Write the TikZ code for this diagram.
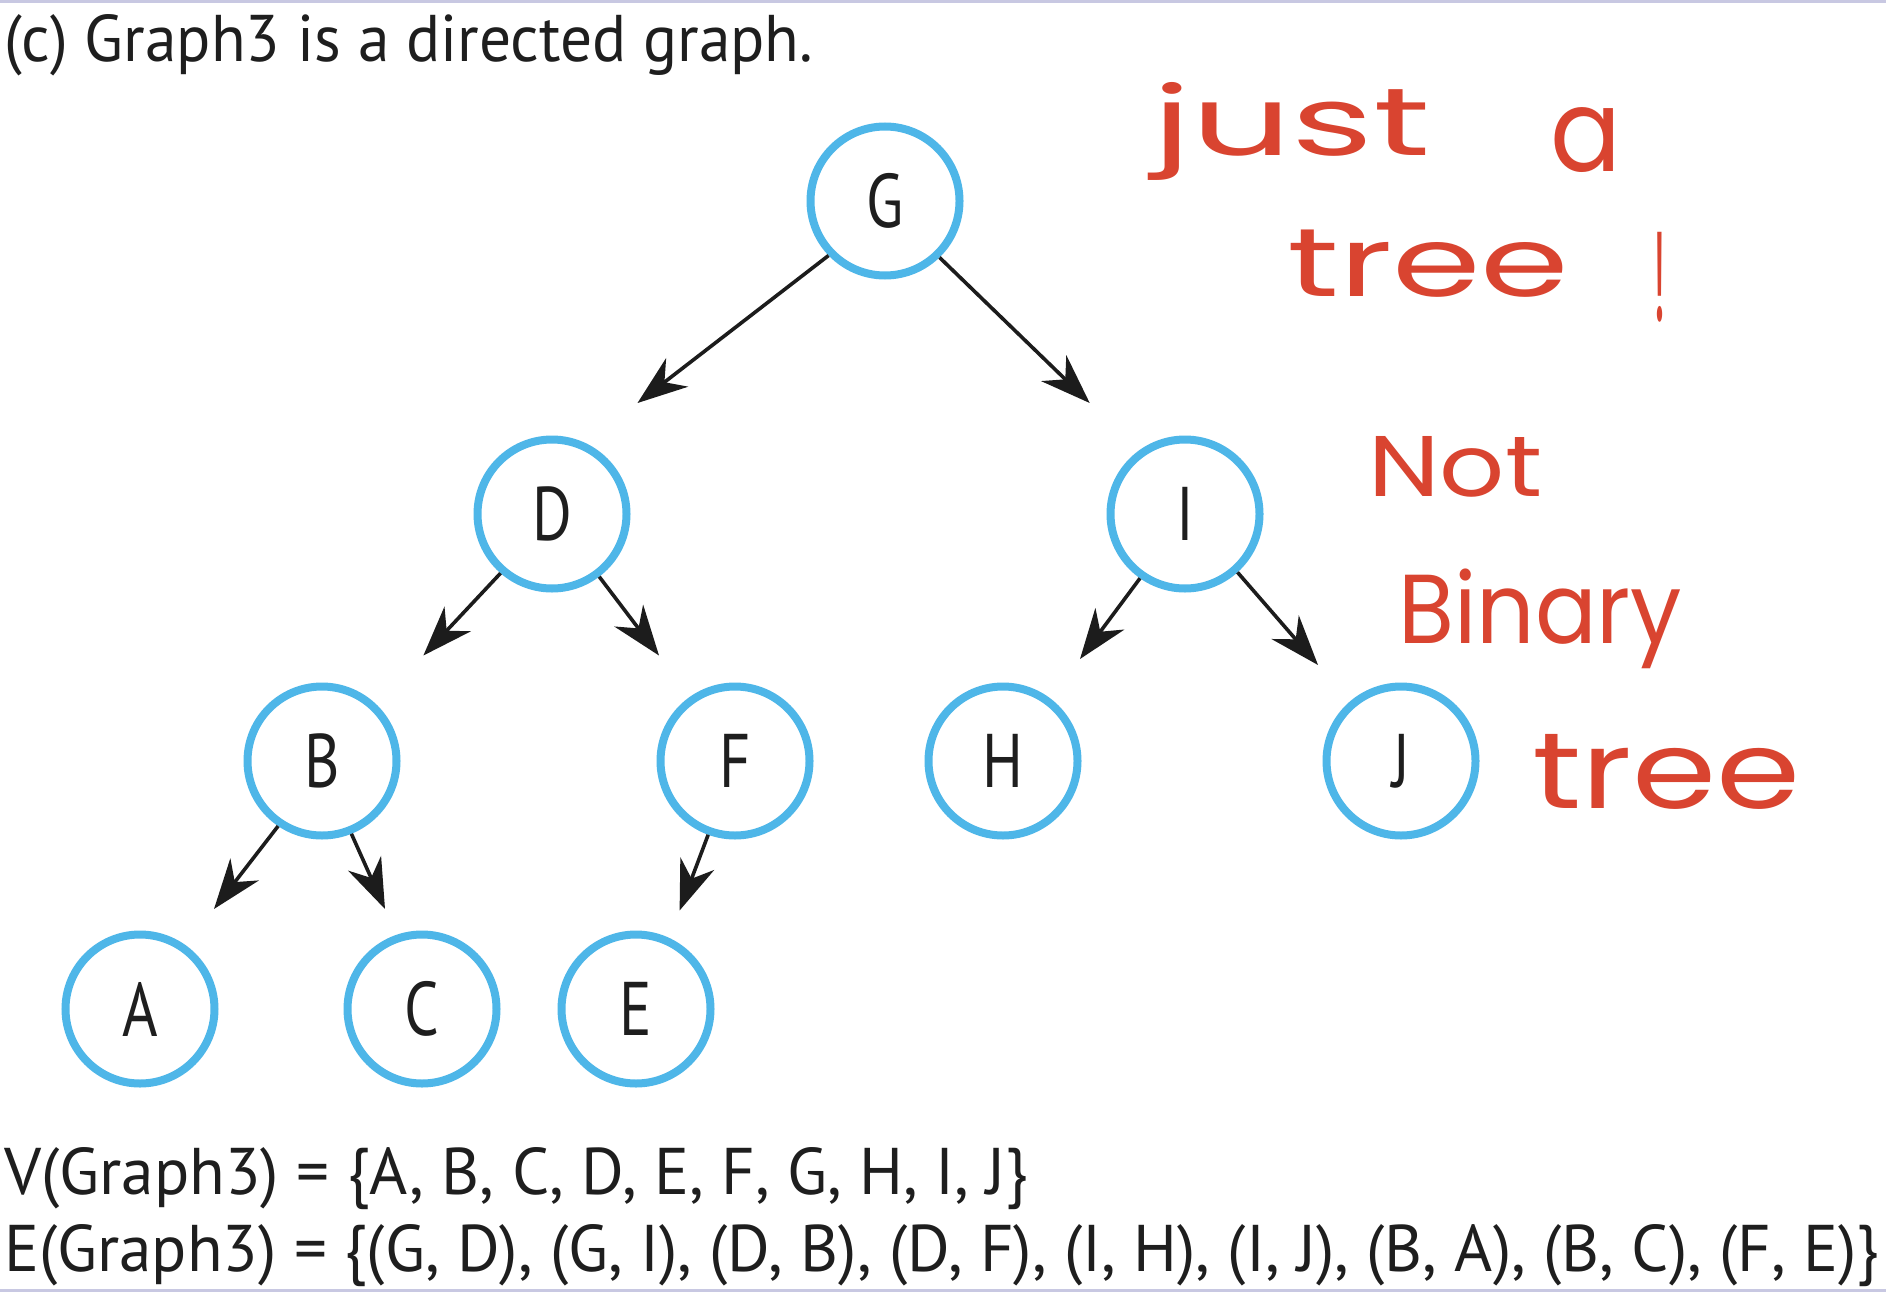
\documentclass[tikz,border=0pt]{standalone}
\usepackage{fontspec}
\usepackage{graphicx}
\usetikzlibrary{arrows.meta}
\setmainfont{PT Sans}
\newfontfamily\lblfont[FakeStretch=0.8]{PT Sans}
\newfontfamily\handfont{Poppins}
\definecolor{nodeblue}{RGB}{78,182,232}
\definecolor{inkred}{RGB}{217,68,48}
\definecolor{edgecol}{RGB}{28,28,28}
\definecolor{txtcol}{RGB}{30,30,30}
\definecolor{rulecol}{RGB}{200,200,226}
\begin{document}
\begin{tikzpicture}[x=1pt,y=-1pt,
  vertex/.style={circle,draw=nodeblue,line width=8pt,minimum size=149pt,inner sep=0pt,fill=white,
    font=\lblfont\fontsize{76}{76}\selectfont,text=txtcol},
  link/.style={draw=edgecol,line width=3.6pt,-{Stealth[length=50pt,width=36pt,inset=16pt]}},
  captxt/.style={inner sep=0pt,anchor=base west,text=txtcol,font=\fontsize{66}{66}\selectfont},
  hw/.style={inner sep=0pt,anchor=base west,text=inkred},
  hwbox/.style={inner sep=0pt,anchor=north west,text=inkred,font=\handfont\fontsize{100}{100}\selectfont},
  rule/.style={draw=rulecol,line width=3pt}]
\useasboundingbox (0,0) rectangle (1886,1292);
\fill[white] (0,0) rectangle (1886,1292);
\coordinate (rtl) at (0,1.5);
\coordinate (rtr) at (1886,1.5);
\coordinate (rbl) at (0,1290);
\coordinate (rbr) at (1886,1290);
\draw[rule] (rtl) -- (rtr);
\draw[rule] (rbl) -- (rbr);

% title
\node[captxt] (title) at (4,62) {\resizebox{809pt}{\height}{(c) Graph3 is a directed graph.}};

% vertices
\node[vertex] (G) at (885,201) {G};
\node[vertex] (D) at (552,514) {D};
\node[vertex] (I) at (1185,514) {I};
\node[vertex] (B) at (322,761) {B};
\node[vertex] (F) at (735,761) {F};
\node[vertex] (H) at (1003,761) {H};
\node[vertex] (J) at (1401,761) {J};
\node[vertex] (A) at (140,1009) {A};
\node[vertex] (C) at (422,1009) {C};
\node[vertex] (E) at (636,1009) {E};

% arrow tips
\coordinate (tGD) at (637.5,403);
\coordinate (tGI) at (1089.7,403);
\coordinate (tDB) at (423.4,655.5);
\coordinate (tDF) at (659,655.5);
\coordinate (tIH) at (1080,659);
\coordinate (tIJ) at (1318,665);
\coordinate (tBA) at (214,909);
\coordinate (tBC) at (385,909);
\coordinate (tFE) at (679.6,910.5);

\draw[link] (G.-136) -- (tGD);
\draw[link] (G.-46) -- (tGI);
\draw[link] (D.-131.6) -- (tDB);
\draw[link] (D.-53.3) -- (tDF);
\draw[link] (I.-125.7) -- (tIH);
\draw[link] (I.-48.5) -- (tIJ);
\draw[link] (B.-124.9) -- (tBA);
\draw[link] (B.-68.2) -- (tBC);
\draw[link] (F.-110.8) -- (tFE);

% handwritten notes
\node[hw,font=\handfont\fontsize{96}{96}\selectfont] (wjust) at (1152,156) {\resizebox{279pt}{\height}{just}};
\node[hwbox] (wa) at (1550,107) {\resizebox*{71pt}{65pt}{a}};
\node[hw,font=\handfont\fontsize{97}{97}\selectfont] (wtree) at (1287,296) {\resizebox{282pt}{\height}{tree}};
\node[hwbox] (wbang) at (1653,232) {\resizebox*{13pt}{90pt}{!}};
\node[hw,font=\handfont\fontsize{86}{86}\selectfont] (wnot) at (1368,496) {\resizebox{174pt}{\height}{Not}};
\node[hw,font=\handfont\fontsize{98}{98}\selectfont] (wbinary) at (1398,643) {\resizebox{284pt}{\height}{Binary}};
\node[hw,font=\handfont\fontsize{108}{108}\selectfont] (wtreeb) at (1532,808) {\resizebox{268pt}{\height}{tree}};

% sets
\node[captxt] (vset) at (4,1194) {\resizebox{1024pt}{\height}{V(Graph3) = \{A, B, C, D, E, F, G, H, I, J\}}};
\node[captxt] (eset) at (4,1271) {\resizebox{1875pt}{\height}{E(Graph3) = \{(G, D), (G, I), (D, B), (D, F), (I, H), (I, J), (B, A), (B, C), (F, E)\}}};
\end{tikzpicture}
\end{document}
